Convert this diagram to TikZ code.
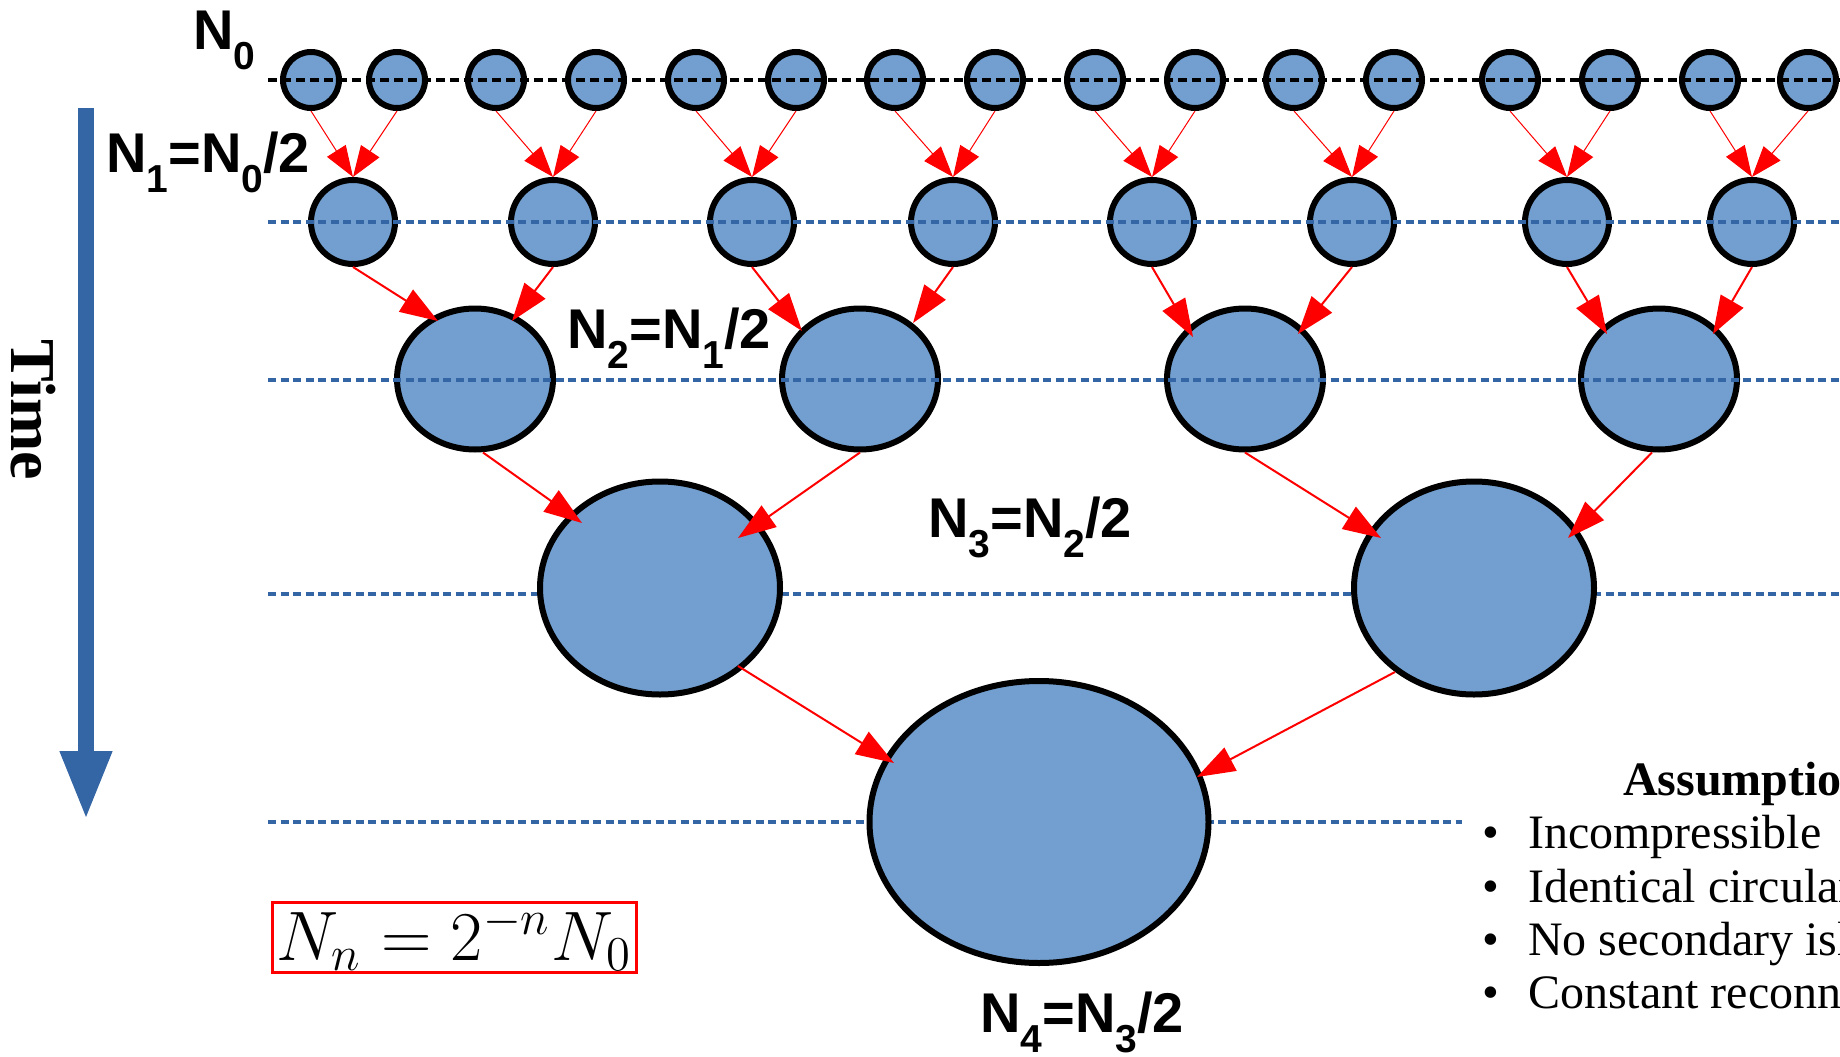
\documentclass[tikz,border=0pt]{standalone}
\usepackage{graphicx}
\usepackage{fontspec}
\setmainfont{Liberation Serif}
\newfontfamily\labsans{Liberation Sans}
\usetikzlibrary{shapes.geometric,arrows.meta,calc}
\definecolor{cfill}{HTML}{729FCF}
\definecolor{cblue}{HTML}{3465A4}
\newcommand{\NL}[1]{N\raisebox{-20pt}{\fontsize{39}{40}\selectfont #1}}
\newcommand{\lab}[1]{{\labsans\bfseries\fontsize{56}{60}\selectfont #1}}
\begin{document}
\begin{tikzpicture}[x=1pt,y=-1pt,
  isle/.style={ellipse, draw=black, fill=cfill, line width=6pt, inner sep=0pt},
  s0/.style={isle, minimum width=56pt, minimum height=56pt},
  s1/.style={isle, minimum width=84pt, minimum height=84pt},
  s2/.style={isle, minimum width=156pt, minimum height=141pt},
  s3/.style={isle, minimum width=240pt, minimum height=213pt},
  s4/.style={isle, minimum width=339pt, minimum height=282pt},
  guideb/.style={dash pattern=on 8pt off 4.5pt, line width=3.5pt, cblue},
  guidek/.style={dash pattern=on 9pt off 5pt, line width=4pt, black},
  arrsmall/.style={red, line width=1pt, -{Triangle[length=31pt,width=22pt]}},
  arrbig/.style={red, line width=2pt, -{Triangle[length=38pt,width=26pt]}},
  lbl/.style={inner sep=0pt, anchor=base west}
]
\useasboundingbox (0,0) rectangle (1840,1057);

% guide lines behind rows 3 and 4
\coordinate (g3a) at (268,594); \coordinate (g3b) at (1840,594);
\coordinate (g4a) at (268,822); \coordinate (g4b) at (1462,822);
\draw[guideb] (g3a) -- (g3b);
\draw[guideb] (g4a) -- (g4b);

% islands
\foreach \x [count=\i] in {311,397,496,596,696,796,895,995,1095,1195,1294,1394,1510,1610,1710,1808}
  \node[s0] (a\i) at (\x,80) {};
\foreach \x [count=\i] in {353,553,752,953,1152,1352,1567,1752}
  \node[s1] (b\i) at (\x,222) {};
\foreach \x [count=\i] in {475,860,1245,1659}
  \node[s2] (c\i) at (\x,379) {};
\node[s3] (d1) at (660,588) {};
\node[s3] (d2) at (1474,588) {};
\node[s4] (e1) at (1039,822) {};

% guide lines over rows 0-2
\coordinate (g0a) at (268,80); \coordinate (g0b) at (1840,80);
\coordinate (g1a) at (268,222); \coordinate (g1b) at (1840,222);
\coordinate (g2a) at (268,380); \coordinate (g2b) at (1840,380);
\draw[guidek] (g0a) -- (g0b);
\draw[guideb] (g1a) -- (g1b);
\draw[guideb] (g2a) -- (g2b);

% arrows row 0 -> row 1
\foreach \k in {1,...,8}{
  \pgfmathtruncatemacro\l{2*\k-1}
  \pgfmathtruncatemacro\r{2*\k}
  \draw[arrsmall] (a\l.south) -- (b\k.north);
  \draw[arrsmall] (a\r.south) -- (b\k.north);
}
% arrows row 1 -> row 2
\draw[arrbig] (b1.south) -- ($(c1)+(-37,-58)$);
\draw[arrbig] (b2.south) -- ($(c1)+(37,-58)$);
\draw[arrbig] (b3.south) -- ($(c2)+(-58,-48)$);
\draw[arrbig] (b4.south) -- ($(c2)+(53,-56)$);
\draw[arrbig] (b5.south) -- ($(c3)+(-52,-42)$);
\draw[arrbig] (b6.south) -- ($(c3)+(53,-45)$);
\draw[arrbig] (b7.south) -- ($(c4)+(-52,-45)$);
\draw[arrbig] (b8.south) -- ($(c4)+(54,-45)$);
% arrows row 2 -> row 3
\draw[arrbig] ($(c1.south)+(8,0)$) -- ($(d1)+(-78,-65)$);
\draw[arrbig] (c2.south) -- ($(d1)+(78,-50)$);
\draw[arrbig] (c3.south) -- ($(d2)+(-93,-50)$);
\draw[arrbig] ($(c4.south)+(-7,0)$) -- ($(d2)+(94,-50)$);
% arrows row 3 -> row 4
\draw[arrbig] ($(d1)+(78,78)$) -- ($(e1)+(-145,-59)$);
\draw[arrbig] ($(d2)+(-79,84)$) -- ($(e1)+(158,-45)$);

% labels
\node[lbl] (l0) at (193,50) {\lab{\NL{0}}};
\node[lbl] (l1) at (106,172) {\lab{\NL{1}=\NL{0}/2}};
\node[lbl] (l2) at (567,348) {\lab{\NL{2}=\NL{1}/2}};
\node[lbl] (l3) at (928,537) {\lab{\NL{3}=\NL{2}/2}};
\node[lbl] (l4) at (980,1032) {\lab{\NL{4}=\NL{3}/2}};

% time arrow
\coordinate (tA) at (86,108);
\coordinate (tB) at (86,820);
\draw[cblue, line width=16pt, -{Triangle[length=69pt,width=48pt]}] (tA) -- (tB);
\node[lbl, rotate=-90] (time) at (12,339) {\fontsize{64}{66}\selectfont\bfseries Time};

% formula
\node[draw=red, line width=3pt, text height=58pt, text depth=12pt, inner xsep=4pt, inner ysep=0pt, anchor=base west] (formula) at (271,960)
  {\scalebox{4.05}{\fontsize{17.28}{20}\selectfont $N_n = 2^{-n}N_0$}};

% assumptions
\node[lbl] (ass) at (1623,795) {\fontsize{48}{50}\selectfont\bfseries Assumptions};
\foreach \t/\y [count=\i] in {Incompressible/848, Identical circular/902, No secondary islands/955, Constant reconnection/1008}{
  \node[lbl] (bul\i) at (1482,\y) {\fontsize{48}{50}\selectfont •};
  \node[lbl] (it\i) at (1528,\y) {\fontsize{48}{50}\selectfont \t};
}
\end{tikzpicture}
\end{document}
